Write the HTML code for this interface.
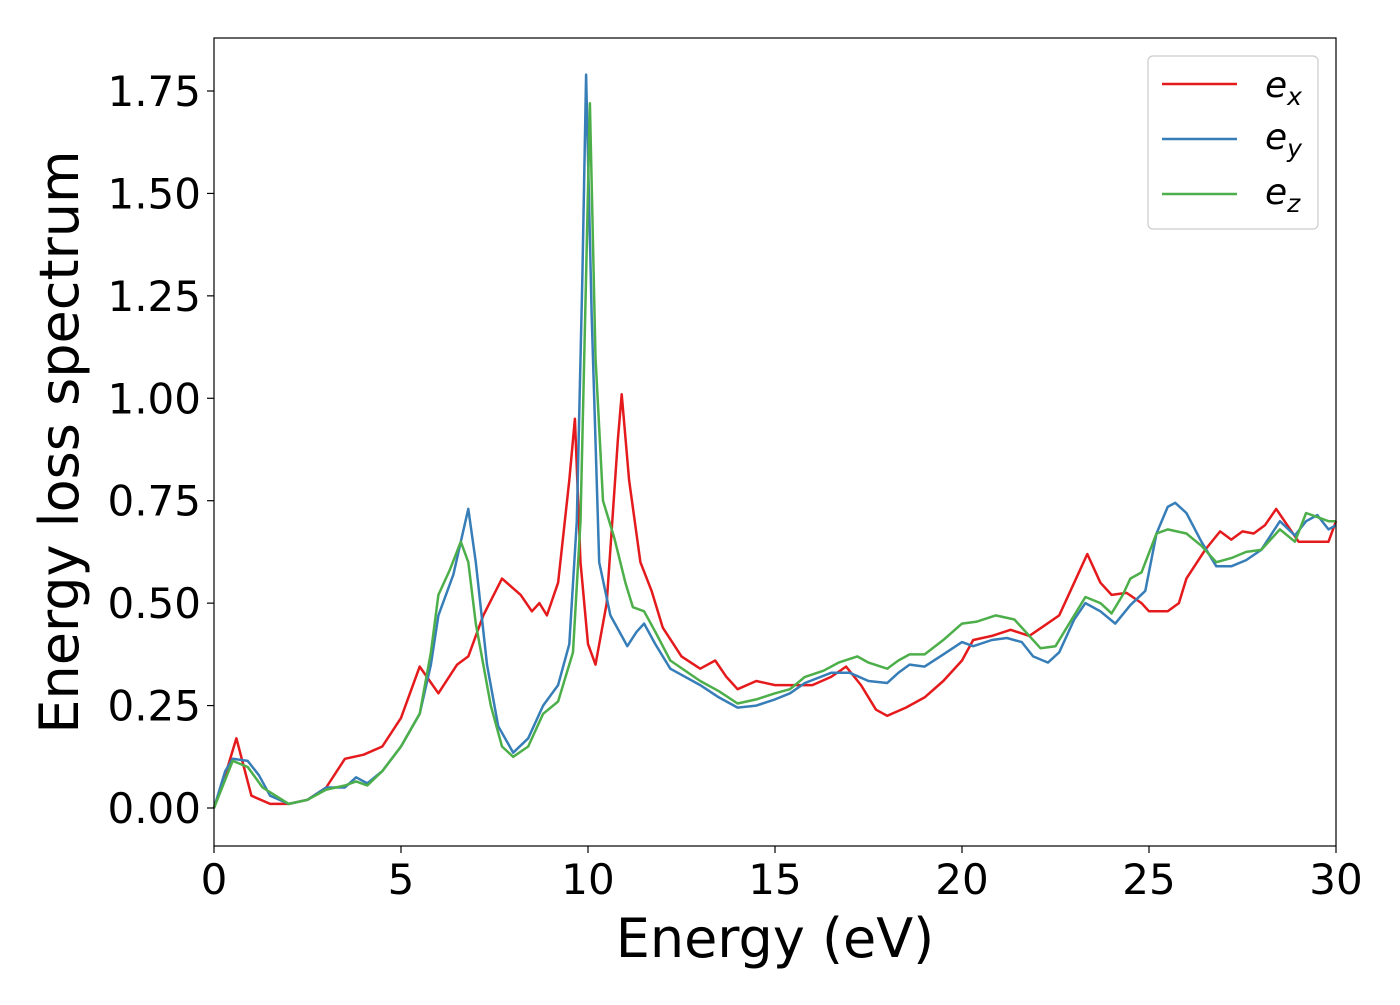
<!DOCTYPE html>
<html><head><meta charset="utf-8"><style>
html,body{margin:0;padding:0;background:#fff;}
svg text{font-family:"DejaVu Sans","Liberation Sans",sans-serif;fill:#000;}
</style></head><body>
<svg id="chart" width="1400" height="1000">
<rect x="0" y="0" width="1400" height="1000" fill="#fff"/>
<g id="plot"></g>
<rect x="214" y="38" width="1122" height="808" fill="none" stroke="#000" stroke-width="1.2"/>
<g id="ticks"></g>
<text x="775" y="957" font-size="54" text-anchor="middle">Energy (eV)</text>
<text transform="translate(78,442) rotate(-90)" font-size="54" text-anchor="middle">Energy loss spectrum</text>
<g>
<rect x="1148" y="56" width="170" height="173" rx="5" fill="#fff" stroke="#ccc" stroke-width="1.2"/>
<line x1="1162" y1="84" x2="1237" y2="84" stroke="#e41a1c" stroke-width="2.5"/>
<text x="1265" y="97" font-size="36" font-style="italic">e<tspan font-size="25" dy="8">x</tspan></text>
<line x1="1162" y1="139" x2="1237" y2="139" stroke="#377eb8" stroke-width="2.5"/>
<text x="1265" y="149" font-size="36" font-style="italic">e<tspan font-size="25" dy="8">y</tspan></text>
<line x1="1162" y1="194" x2="1237" y2="194" stroke="#4daf4a" stroke-width="2.5"/>
<text x="1265" y="204" font-size="36" font-style="italic">e<tspan font-size="25" dy="8">z</tspan></text>
</g>
</svg>
<script>
const xTicks = [0, 5, 10, 15, 20, 25, 30];
const yTicks = [0, 0.25, 0.5, 0.75, 1.0, 1.25, 1.5, 1.75];
const yTickLabels = ["0.00","0.25","0.50","0.75","1.00","1.25","1.50","1.75"];

const exX = [0,0.3,0.6,0.8,1.0,1.5,2,2.5,3,3.5,4,4.5,5,5.5,6,6.5,6.8,7.2,7.7,8.2,8.5,8.7,8.9,9.2,9.5,9.65,9.8,10.0,10.2,10.5,10.8,10.9,11.1,11.4,11.7,12,12.5,13,13.4,13.7,14,14.5,15,15.5,16,16.5,16.9,17.3,17.7,18,18.5,19,19.5,20,20.3,20.8,21.3,21.8,22.2,22.6,23,23.35,23.7,24,24.4,24.8,25,25.5,25.8,26,26.5,26.9,27.2,27.5,27.8,28.1,28.4,28.7,29,29.5,29.8,30];
const exY = [0,0.08,0.17,0.1,0.03,0.01,0.01,0.02,0.05,0.12,0.13,0.15,0.22,0.345,0.28,0.35,0.37,0.47,0.56,0.52,0.48,0.5,0.47,0.55,0.8,0.95,0.6,0.4,0.35,0.5,0.9,1.01,0.8,0.6,0.53,0.44,0.37,0.34,0.36,0.32,0.29,0.31,0.3,0.3,0.3,0.32,0.345,0.3,0.24,0.225,0.245,0.27,0.31,0.36,0.41,0.42,0.435,0.42,0.445,0.47,0.55,0.62,0.55,0.52,0.525,0.5,0.48,0.48,0.5,0.56,0.63,0.675,0.655,0.675,0.67,0.69,0.73,0.69,0.65,0.65,0.65,0.7];

const eyX = [0,0.3,0.5,0.9,1.2,1.5,2,2.5,3,3.5,3.8,4.1,4.5,5,5.5,5.8,6.0,6.4,6.6,6.8,7.0,7.3,7.6,8,8.4,8.8,9.2,9.5,9.7,9.85,9.95,10.1,10.3,10.6,10.9,11.05,11.3,11.5,11.8,12.2,13,13.5,14,14.5,15,15.4,15.8,16.5,17,17.5,18,18.3,18.6,19,19.5,20,20.3,20.8,21.2,21.6,21.9,22.3,22.6,23,23.3,23.7,24.1,24.5,24.9,25.2,25.5,25.7,26,26.4,26.8,27.2,27.6,28,28.5,28.9,29.2,29.5,29.8,30];
const eyY = [0,0.09,0.12,0.115,0.08,0.03,0.01,0.02,0.05,0.05,0.075,0.06,0.09,0.15,0.23,0.35,0.47,0.57,0.65,0.73,0.6,0.35,0.2,0.135,0.17,0.25,0.3,0.4,0.7,1.3,1.79,1.2,0.6,0.47,0.42,0.395,0.43,0.45,0.4,0.34,0.3,0.27,0.245,0.25,0.265,0.28,0.305,0.33,0.33,0.31,0.305,0.33,0.35,0.345,0.375,0.405,0.395,0.41,0.415,0.405,0.37,0.355,0.38,0.46,0.5,0.48,0.45,0.495,0.53,0.67,0.735,0.745,0.72,0.65,0.59,0.59,0.605,0.63,0.7,0.665,0.7,0.715,0.68,0.69];

const ezX = [0,0.5,0.9,1.3,2,2.5,3,3.5,3.8,4.1,4.5,5,5.5,5.8,6.0,6.3,6.6,6.8,7.0,7.4,7.7,8,8.4,8.8,9.2,9.6,9.8,9.95,10.05,10.2,10.4,10.7,11.0,11.2,11.5,11.8,12.2,13,13.5,14,14.5,15,15.4,15.8,16.3,16.7,17.2,17.5,18,18.3,18.6,19,19.5,20,20.4,20.9,21.4,21.8,22.1,22.5,22.8,23.3,23.7,24,24.3,24.5,24.8,25.2,25.5,26,26.4,26.8,27.2,27.6,28,28.5,28.9,29.2,29.5,29.8,30];
const ezY = [0,0.115,0.1,0.05,0.01,0.02,0.045,0.055,0.065,0.055,0.09,0.15,0.23,0.38,0.52,0.58,0.65,0.6,0.45,0.25,0.15,0.125,0.15,0.23,0.26,0.38,0.7,1.3,1.72,1.1,0.75,0.66,0.55,0.49,0.48,0.43,0.36,0.31,0.285,0.255,0.265,0.28,0.29,0.32,0.335,0.355,0.37,0.355,0.34,0.36,0.375,0.375,0.41,0.45,0.455,0.47,0.46,0.42,0.39,0.395,0.44,0.515,0.5,0.475,0.52,0.56,0.575,0.67,0.68,0.67,0.64,0.6,0.61,0.625,0.63,0.68,0.65,0.72,0.71,0.7,0.7];

const X0 = 214, X1 = 1336, Y0 = 808, Y175 = 91;
function sx(v){ return X0 + (v - 0) / 30 * (X1 - X0); }
function sy(v){ return Y0 - v / 1.75 * (Y0 - Y175); }

const NS = "http://www.w3.org/2000/svg";
const plot = document.getElementById("plot");
const ticks = document.getElementById("ticks");

function drawSeries(xs, ys, color, name){
  const pts = xs.map((x,i)=> sx(x).toFixed(1)+","+sy(ys[i]).toFixed(1)).join(" ");
  const pl = document.createElementNS(NS,"polyline");
  pl.setAttribute("points", pts);
  pl.setAttribute("fill","none");
  pl.setAttribute("stroke", color);
  pl.setAttribute("stroke-width","2.5");
  pl.setAttribute("stroke-linejoin","round");
  
  
  plot.appendChild(pl);
}
drawSeries(exX, exY, "#e41a1c", "series-ex");
drawSeries(eyX, eyY, "#377eb8", "series-ey");
drawSeries(ezX, ezY, "#4daf4a", "series-ez");

xTicks.forEach(t=>{
  const l = document.createElementNS(NS,"line");
  l.setAttribute("x1", sx(t)); l.setAttribute("x2", sx(t));
  l.setAttribute("y1", 846); l.setAttribute("y2", 853);
  l.setAttribute("stroke","#000"); l.setAttribute("stroke-width","1.2");
  
  
  ticks.appendChild(l);
  const tx = document.createElementNS(NS,"text");
  tx.setAttribute("x", sx(t)); tx.setAttribute("y", 894);
  tx.setAttribute("font-size","42"); tx.setAttribute("text-anchor","middle");
  tx.textContent = String(t);
  
  
  ticks.appendChild(tx);
});
yTicks.forEach((t,i)=>{
  const l = document.createElementNS(NS,"line");
  l.setAttribute("x1", 207); l.setAttribute("x2", 214);
  l.setAttribute("y1", sy(t)); l.setAttribute("y2", sy(t));
  l.setAttribute("stroke","#000"); l.setAttribute("stroke-width","1.2");
  
  
  ticks.appendChild(l);
  const tx = document.createElementNS(NS,"text");
  tx.setAttribute("x", 201); tx.setAttribute("y", sy(t)+15);
  tx.setAttribute("font-size","42"); tx.setAttribute("text-anchor","end");
  tx.textContent = yTickLabels[i];
  
  
  ticks.appendChild(tx);
});
</script>
</body></html>
